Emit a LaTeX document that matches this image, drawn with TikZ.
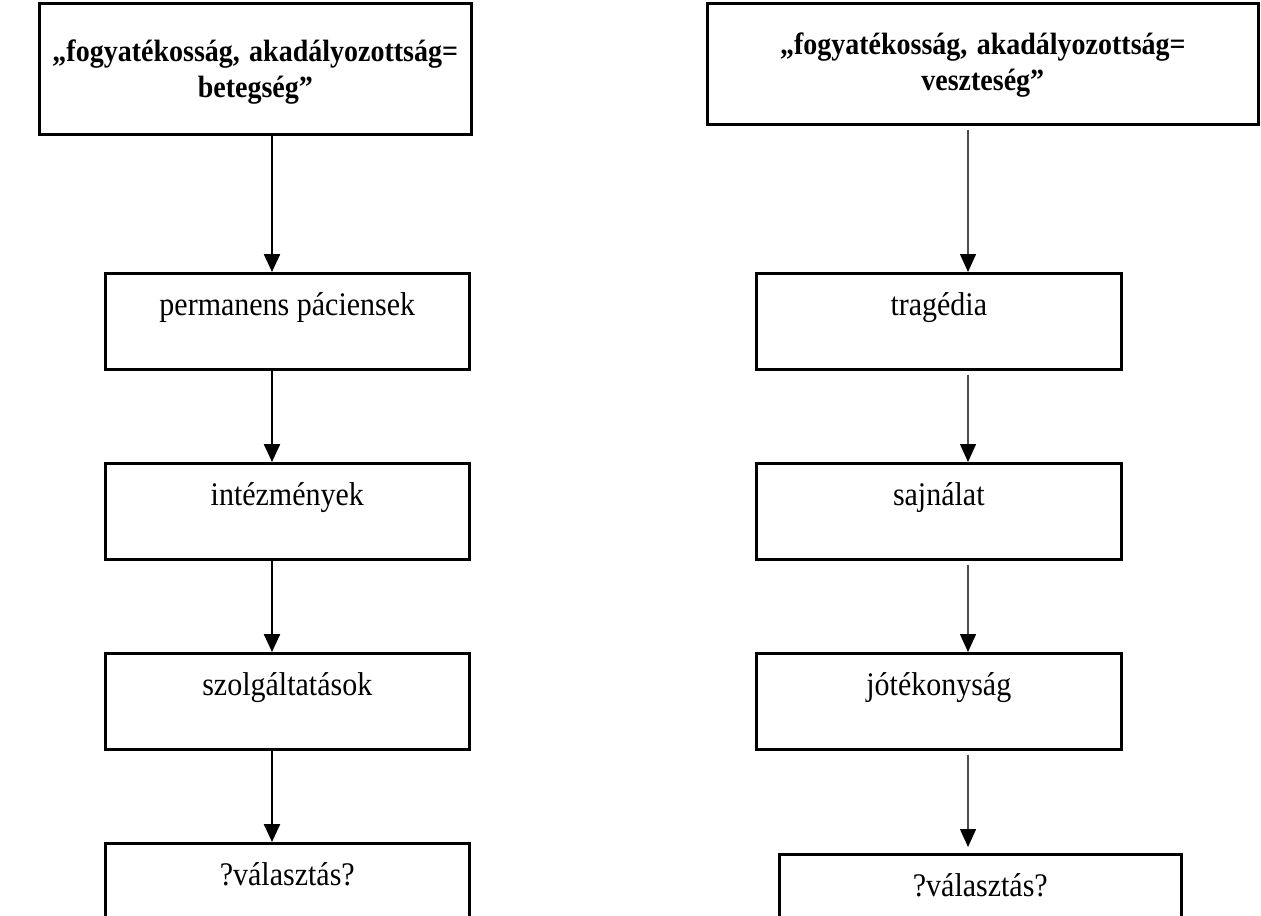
\documentclass[tikz,border=0pt]{standalone}
\usepackage{fontspec}
\usepackage{graphicx}
\setmainfont{Liberation Serif}
\usetikzlibrary{arrows.meta,positioning,calc}
\newcommand{\nyujt}[1]{\scalebox{1}[1.1]{#1}}
\tikzset{
  fejdoboz/.style={rectangle, draw=black, line width=1.3pt, inner sep=0pt, anchor=north west,
                   align=center, font=\fontsize{14}{18}\selectfont\bfseries},
  doboz/.style={rectangle, draw=black, line width=1.3pt, inner sep=0pt, anchor=north west,
                font=\fontsize{15}{18}\selectfont, text height=21pt, text depth=27pt},
  nyil/.style={-{Triangle[length=9pt,width=8pt]}, line width=1.2pt, draw=black},
  vnyil/.style={-{Triangle[length=9pt,width=8pt,color=black]}, line width=0.7pt, draw=black!70},
}
\begin{document}
\begin{tikzpicture}[x=0.5pt,y=-0.5pt]
    \useasboundingbox (0,0) rectangle (1261,915);
    \clip (0,0) rectangle (1261,915);
    \coordinate (lx) at (272,0);
    \coordinate (rx) at (968,0);
    \node[fejdoboz, text width=216pt, text height=29pt, text depth=36.5pt] (lt) at (38,2)
      {\nyujt{„fogyatékosság, akadályozottság=}\\ \nyujt{betegség”}};
    \node[doboz, minimum width=182pt] (l1) at (104,272) {\nyujt{permanens páciensek}};
    \node[doboz, minimum width=182pt] (l2) at (104,462) {\nyujt{intézmények}};
    \node[doboz, minimum width=182pt] (l3) at (104,652) {\nyujt{szolgáltatások}};
    \node[doboz, minimum width=182pt] (l4) at (104,842) {\nyujt{?választás?}};
    \node[fejdoboz, text width=275.5pt, text height=25.5pt, text depth=35pt] (rt) at (706,2)
      {\nyujt{„fogyatékosság, akadályozottság=}\\ \nyujt{veszteség”}};
    \node[doboz, minimum width=182.5pt] (r1) at (755,272) {\nyujt{tragédia}};
    \node[doboz, minimum width=182.5pt] (r2) at (755,462) {\nyujt{sajnálat}};
    \node[doboz, minimum width=182.5pt] (r3) at (755,652) {\nyujt{jótékonyság}};
    \node[doboz, minimum width=201pt] (r4) at (778,853) {\nyujt{?választás?}};
    \draw[nyil] (lt.south -| lx) -- (l1.north -| lx);
    \draw[nyil] (l1.south -| lx) -- (l2.north -| lx);
    \draw[nyil] (l2.south -| lx) -- (l3.north -| lx);
    \draw[nyil] (l3.south -| lx) -- (l4.north -| lx);
    \draw[vnyil] ($(rt.south -| rx)+(0,4)$) -- (r1.north -| rx);
    \draw[vnyil] ($(r1.south -| rx)+(0,4)$) -- (r2.north -| rx);
    \draw[vnyil] ($(r2.south -| rx)+(0,4)$) -- (r3.north -| rx);
    \draw[vnyil, shorten >=3pt] ($(r3.south -| rx)+(0,4)$) -- (r4.north -| rx);
\end{tikzpicture}
\end{document}
